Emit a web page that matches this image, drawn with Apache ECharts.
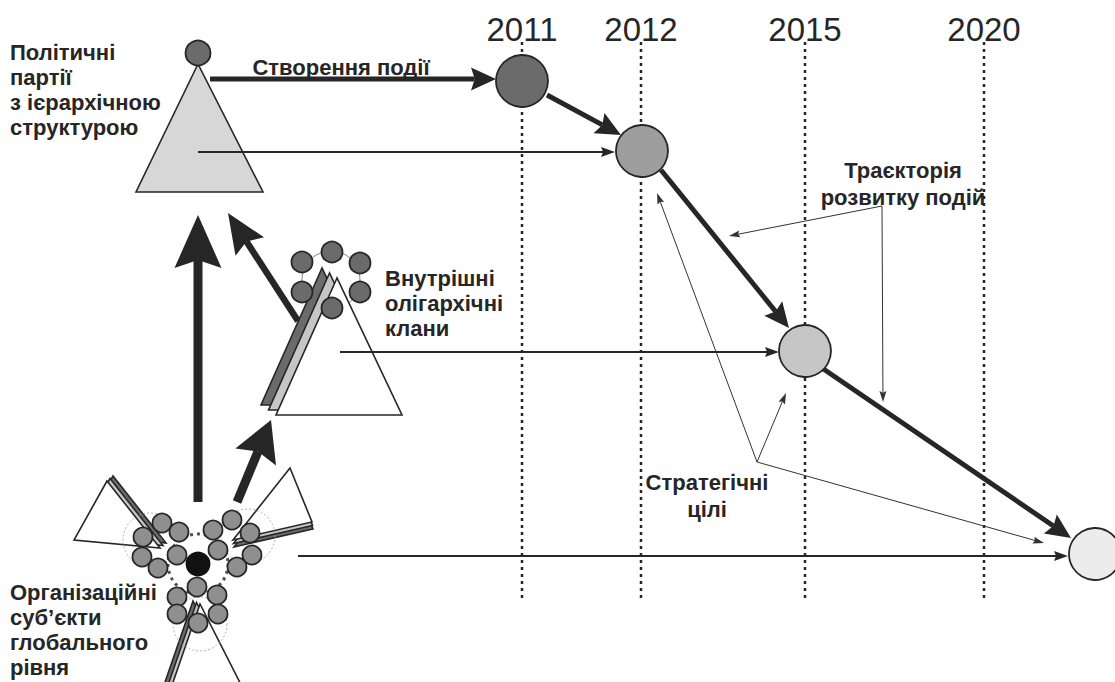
<!DOCTYPE html>
<html>
<head>
<meta charset="utf-8">
<script src="https://cdn.jsdelivr.net/npm/echarts@6/dist/echarts.min.js"></script>
<style>
html, body { margin: 0; padding: 0; background: #fff; }
#chart { width: 1115px; height: 682px; }
</style>
</head>
<body>
<div id="chart"></div>
<script>
// time marks across the top
const years = ["2011", "2012", "2015", "2020"];
const yearX = [522, 641, 805, 984];
const yearLineTop = 42;
const yearLineBottom = 600;

// events on the trajectory (x, y) and their shading
const eventNodes = [[522, 81], [642, 151], [805, 351], [1095, 554]];
const eventFills = ["#6b6b6b", "#9e9e9e", "#c5c6c5", "#ececec"];

// trajectory arrows [x1, y1, x2, y2]
const trajectory = [
	[210, 79, 496, 79],
	[547, 95, 621, 135],
	[661, 170, 789, 328],
	[822, 368, 1071, 538],
];
// thin links from actors to events
const links = [
	[198, 152, 615, 152],
	[340, 352, 779, 352],
	[298, 556, 1068, 556],
];
// annotation pointers
const pointers = [
	[882, 206, 729, 236],
	[882, 206, 883, 402],
	[757, 462, 657, 193],
	[757, 462, 786, 393],
	[757, 462, 1044, 543],
];
// big influence arrows
const influenceVertical = [[198, 502, 198, 215]];
const influenceUpper = [[298, 321, 228, 213]];
const influenceLower = [[237, 502, 271, 420]];

// political party triangle and its head
const partyTriangle = [[198, 64, 136, 192, 263, 192]];
const partyHead = [[198, 53]];

// oligarchic clan: stacked triangle plus a ring of members
const clanTriangle = [[337, 278, 276, 415, 402, 415]];
const clanShift = [[-7.5, -5]];
const clanRing = [[331, 280]];
const clanMembers = [
	[302, 262], [332, 252], [360, 263],
	[302, 292], [360, 292], [332, 308],
];

// global-level subjects: three stacked triangles around a core
const globalTriangles = [
	[107, 481, 74, 540, 160, 548],
	[290, 468, 233, 540, 312, 522],
	[200, 604, 160, 720, 259, 720],
];
const globalShift = [[3, -2.5], [0.5, 3.5], [-3.5, -1.5]];
const globalCore = [[198, 564]];
const globalSubRings = [[150, 540], [248, 536], [200, 624]];
const globalMembers = [
	[162, 523], [143, 537], [179, 532], [142, 557], [177, 555], [158, 568],
	[213, 530], [232, 520], [250, 533], [218, 550], [252, 555], [237, 567],
	[197, 587], [177, 597], [217, 595], [177, 614], [218, 614], [198, 623],
];

// texts
const yearTextY = 29;
const blockAnchors = [[10, 40], [10, 580], [385, 266]];
const blockTexts = [
	"Політичні\nпартії\nз ієрархічною\nструктурою",
	"Організаційні\nсуб’єкти\nглобального\nрівня",
	"Внутрішні\nолігархічні\nклани",
];
const centerAnchors = [[341, 54], [903, 157], [707, 469]];
const centerTexts = [
	"Створення події",
	"Траєкторія\nрозвитку подій",
	"Стратегічні\nцілі",
];

const ink = "#262626";
const font = "bold 22px 'Liberation Sans', Arial, sans-serif";

function arrowSeries(segs, st) {
	return {
		type: "custom",
		coordinateSystem: "cartesian2d",
		z: st.z,
		silent: true,
		data: segs,
		encode: { x: [0, 2], y: [1, 3] },
		renderItem: function (params, api) {
			const a = api.coord([api.value(0), api.value(1)]);
			const b = api.coord([api.value(2), api.value(3)]);
			const dx = b[0] - a[0];
			const dy = b[1] - a[1];
			const len = Math.sqrt(dx * dx + dy * dy);
			const ux = dx / len;
			const uy = dy / len;
			const nx = -uy;
			const ny = ux;
			const L = st.headLen;
			const W = st.headW / 2;
			const bx = b[0] - ux * L;
			const by = b[1] - uy * L;
			const notch = [b[0] - ux * L * 0.85, b[1] - uy * L * 0.85];
			return {
				type: "group",
				children: [
					{
						type: "line",
						shape: { x1: a[0], y1: a[1], x2: notch[0], y2: notch[1] },
						style: { stroke: st.color, lineWidth: st.width },
					},
					{
						type: "polygon",
						shape: {
							points: [b, [bx + nx * W, by + ny * W], notch, [bx - nx * W, by - ny * W]],
						},
						style: { fill: st.color },
					},
				],
			};
		},
	};
}

function triangleSeries(tris, shifts, fills, z) {
	return {
		type: "custom",
		coordinateSystem: "cartesian2d",
		z: z,
		silent: true,
		data: tris,
		encode: { x: [0, 2, 4], y: [1, 3, 5] },
		renderItem: function (params, api) {
			const pts = [0, 2, 4].map((i) => api.coord([api.value(i), api.value(i + 1)]));
			const s = shifts ? shifts[params.dataIndex] : [0, 0];
			const children = [];
			for (let k = fills.length - 1; k >= 0; k--) {
				children.push({
					type: "polygon",
					shape: { points: pts.map((p) => [p[0] + s[0] * k, p[1] + s[1] * k]) },
					style: { fill: fills[k], stroke: ink, lineWidth: 1.6, lineJoin: "miter" },
				});
			}
			return { type: "group", children: children };
		},
	};
}

function circleSeries(points, size, fill, border, z, extra) {
	return Object.assign({
		type: "scatter",
		z: z,
		silent: true,
		symbol: "circle",
		symbolSize: size,
		data: points,
		itemStyle: { color: fill, borderColor: border, borderWidth: 1.8, opacity: 1 },
	}, extra || {});
}

function textSeries(anchors, texts, st) {
	return {
		type: "custom",
		coordinateSystem: "cartesian2d",
		z: 10,
		silent: true,
		data: anchors,
		encode: { x: 0, y: 1 },
		renderItem: function (params, api) {
			const p = api.coord([api.value(0), api.value(1)]);
			return {
				type: "text",
				style: {
					x: p[0],
					y: p[1],
					text: texts[params.dataIndex],
					font: st.font,
					fill: ink,
					align: st.align,
					textAlign: st.align,
					verticalAlign: st.vAlign,
					textVerticalAlign: st.vAlign,
					lineHeight: st.lineHeight,
				},
			};
		},
	};
}

const chart = echarts.init(document.getElementById("chart"), null, { renderer: "svg" });

chart.setOption({
	animation: false,
	backgroundColor: "#ffffff",
	grid: { left: 0, right: 0, top: 0, bottom: 0 },
	xAxis: { type: "value", min: 0, max: 1115, show: false },
	yAxis: { type: "value", min: 0, max: 682, inverse: true, show: false },
	series: [
		// dotted year guides
		{
			type: "custom",
			coordinateSystem: "cartesian2d",
			z: 1,
			silent: true,
			data: yearX.map((x) => [x, yearLineTop, x, yearLineBottom]),
			encode: { x: [0, 2], y: [1, 3] },
			renderItem: function (params, api) {
				const a = api.coord([api.value(0), api.value(1)]);
				const b = api.coord([api.value(2), api.value(3)]);
				return {
					type: "line",
					shape: { x1: a[0], y1: a[1], x2: b[0], y2: b[1] },
					style: { stroke: ink, lineWidth: 2.5, lineDash: [3, 4] },
				};
			},
		},
		textSeries(yearX.map((x) => [x, yearTextY]), years, {
			font: "33px 'Liberation Sans', Arial, sans-serif",
			align: "center",
			vAlign: "middle",
			lineHeight: 34,
		}),

		// political party
		triangleSeries(partyTriangle, null, ["#d6d7d6"], 2),
		circleSeries(partyHead, 25, "#6b6b6b", ink, 5),

		// oligarchic clans
		circleSeries(clanRing, 58, "none", "#555555", 2, {
			itemStyle: { color: "rgba(0,0,0,0)", borderColor: "#666666", borderWidth: 1 },
		}),
		triangleSeries(clanTriangle, clanShift, ["#ffffff", "#c5c6c5", "#6b6b6b"], 3),
		circleSeries(clanMembers, 21, "#6b6b6b", ink, 5),

		// global subjects
		triangleSeries(globalTriangles, globalShift, ["#ffffff", "#c5c6c5", "#6b6b6b"], 2),
		circleSeries(globalSubRings, 54, "none", "#999999", 3, {
			itemStyle: { color: "rgba(0,0,0,0)", borderColor: "#9a9a9a", borderWidth: 1, borderType: [2, 2] },
		}),
		circleSeries(globalCore, 60, "none", ink, 3, {
			itemStyle: { color: "rgba(0,0,0,0)", borderColor: ink, borderWidth: 3, borderType: [3, 4] },
		}),
		circleSeries(globalMembers, 19, "#8f8f8f", ink, 5),
		circleSeries(globalCore, 23, "#111111", "#111111", 5),

		// influence arrows
		arrowSeries(influenceVertical, { color: ink, width: 9, headLen: 53, headW: 47, z: 2 }),
		arrowSeries(influenceUpper, { color: ink, width: 6.5, headLen: 40, headW: 34, z: 2 }),
		arrowSeries(influenceLower, { color: ink, width: 9, headLen: 40, headW: 44, z: 2 }),

		// links and trajectory
		arrowSeries(links, { color: ink, width: 2, headLen: 14, headW: 10, z: 4 }),
		arrowSeries(pointers, { color: "#333333", width: 1, headLen: 11, headW: 7, z: 4 }),
		arrowSeries(trajectory, { color: ink, width: 5, headLen: 25, headW: 23, z: 4 }),
		circleSeries(
			eventNodes.map((p, i) => ({ value: p, itemStyle: { color: eventFills[i] } })),
			52, "#999999", ink, 6
		),

		// labels
		textSeries(blockAnchors, blockTexts, { font: font, align: "left", vAlign: "top", lineHeight: 25 }),
		textSeries(centerAnchors, centerTexts, { font: font, align: "center", vAlign: "top", lineHeight: 27 }),
	],
});
</script>
</body>
</html>
